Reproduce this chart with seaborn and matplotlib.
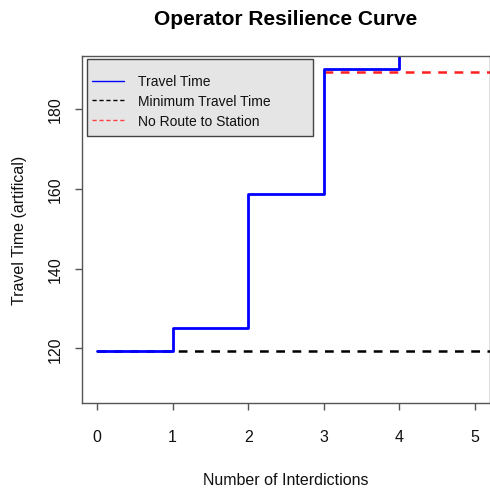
import pandas as pd
import matplotlib.pyplot as plt
import seaborn as sns
from matplotlib.lines import Line2D
from matplotlib.patches import Rectangle

# values
interdictions = [0, 1, 2, 3, 4]
travel_time = [119.3, 125.0, 158.6, 190.0, 200.0]
min_travel_time = 119.3
no_route_time = 189.3
min_span = [0, 6]
no_route_span = [3, 6]
x_ticks = [0, 1, 2, 3, 4, 5]
y_ticks = [120, 140, 160, 180]

sns.set_style('white')
plt.rcParams['font.family'] = ['Liberation Sans', 'DejaVu Sans']

df = pd.DataFrame({'interdictions': interdictions, 'travel_time': travel_time})
df_min = pd.DataFrame({'x': min_span, 'y': [min_travel_time] * 2})
df_route = pd.DataFrame({'x': no_route_span, 'y': [no_route_time] * 2})

fig = plt.figure(figsize=(4.9, 4.89), dpi=100)
ax = fig.add_axes([0.1673, 0.1738, 0.8327, 0.7096])

sns.lineplot(data=df_min, x='x', y='y', ax=ax, color='black', linewidth=1.8,
             linestyle=(0, (3.5, 3)))
sns.lineplot(data=df_route, x='x', y='y', ax=ax, color='#ff2020', linewidth=1.8,
             linestyle=(0, (3.5, 3)))
sns.lineplot(data=df, x='interdictions', y='travel_time', ax=ax, color='blue',
             linewidth=2, drawstyle='steps-post')

ax.set_xlim(-0.2, 5.2)
ax.set_ylim(106.3, 193.3)
ax.set_xticks(x_ticks)
ax.set_yticks(y_ticks)
ax.set_yticklabels([str(v) for v in y_ticks], rotation=90, va='center')
ax.tick_params(axis='x', bottom=True, direction='out', length=5, width=1,
               color='#555555', labelsize=11.5, pad=14, labelcolor='#111111')
ax.tick_params(axis='y', left=True, direction='out', length=5, width=1,
               color='#555555', labelsize=11.5, pad=9, labelcolor='#111111')
for side in ['left', 'bottom', 'top', 'right']:
    ax.spines[side].set_color('#555555')
    ax.spines[side].set_linewidth(1)

ax.set_xlabel('Number of Interdictions', fontsize=11.5, labelpad=20, color='#111111')
ax.set_ylabel('Travel Time (artifical)', fontsize=11.5, labelpad=15, color='#111111')
ax.set_title('Operator Resilience Curve', fontsize=15, fontweight='bold', pad=23,
             color='black')

# legend box
ax.add_patch(Rectangle((0.012, 0.769), 0.554, 0.222, transform=ax.transAxes,
                       facecolor='#e5e5e5', edgecolor='#444444', linewidth=1,
                       zorder=4))
handles = [
    Line2D([], [], color='blue', linewidth=1),
    Line2D([], [], color='black', linewidth=1, linestyle=(0, (3, 2))),
    Line2D([], [], color='#ff4040', linewidth=1, linestyle=(0, (3, 2))),
]
labels = ['Travel Time', 'Minimum Travel Time', 'No Route to Station']
leg = ax.legend(handles, labels, loc='upper left', bbox_to_anchor=(0.015, 0.959),
                frameon=False, fontsize=10, handlelength=2.3, handletextpad=1.0,
                labelspacing=0.4, borderpad=0.3, borderaxespad=0)
for t in leg.get_texts():
    t.set_color('#111111')
leg.set_zorder(5)

plt.savefig('out.png', dpi=100)
plt.close()
